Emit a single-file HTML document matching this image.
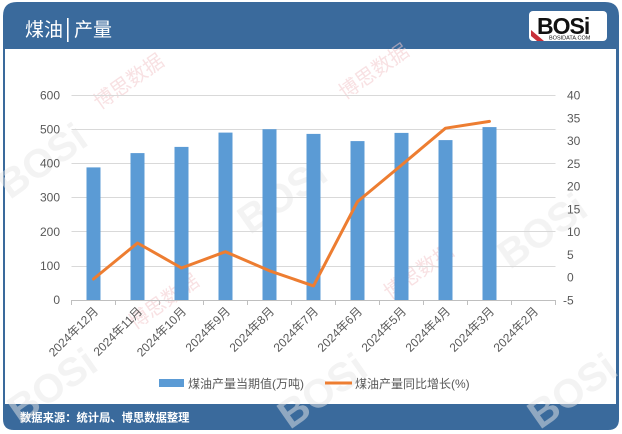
<!DOCTYPE html>
<html><head><meta charset="utf-8"><style>
html,body{margin:0;padding:0;background:#fff;}
svg{display:block;}
text{font-family:"Liberation Sans","Noto Sans CJK SC",sans-serif;}
</style></head><body>
<svg width="622" height="434" viewBox="0 0 622 434" xmlns="http://www.w3.org/2000/svg">
<!-- frame -->
<rect x="0" y="0" width="622" height="434" fill="#fff"/>
<path d="M3,49 L3,16 Q3,2 17,2 L605,2 Q619,2 619,16 L619,49 Z" fill="#3A6A9C"/>
<rect x="3" y="48" width="2" height="358" fill="#3A6A9C"/>
<rect x="616" y="48" width="3" height="358" fill="#3A6A9C"/>
<path d="M3,404 L619,404 L619,419 Q619,430 608,430 L14,430 Q3,430 3,419 Z" fill="#3A6A9C"/>
<text x="25" y="36" font-size="19" fill="#fff">煤油</text>
<rect x="67" y="18" width="1.6" height="24" fill="#fff"/>
<text x="74" y="36" font-size="19" fill="#fff">产量</text>
<text x="20" y="421.5" font-size="11.3" fill="#fff" font-weight="bold">数据来源：统计局、博思数据整理</text>
<!-- logo -->
<rect x="529" y="11" width="78" height="30" rx="4" fill="#fff"/>
<polygon points="531,30 544,41 537,41 531,36" fill="#C8303A"/>
<text x="537" y="34" font-size="23" font-weight="bold" fill="#111" letter-spacing="-1" font-family="Liberation Sans">BOSi</text>
<text x="549" y="39.5" font-size="5.5" fill="#111" font-family="Liberation Sans">BOSIDATA.COM</text>
<!-- watermarks -->
<g fill="#e6e6e6" font-weight="bold" font-size="40" opacity="0.5">
<text transform="translate(10,200) rotate(-35)">BOSi</text>
<text transform="translate(250,235) rotate(-35)">BOSi</text>
<text transform="translate(510,270) rotate(-35)">BOSi</text>
<text transform="translate(20,425) rotate(-35)">BOSi</text>
<text transform="translate(290,430) rotate(-35)">BOSi</text>
<text transform="translate(540,430) rotate(-35)">BOSi</text>
</g>
<g fill="#f3c9cc" font-size="20" opacity="0.55">
<text transform="translate(100,110) rotate(-35)">博思数据</text>
<text transform="translate(345,100) rotate(-35)">博思数据</text>
<text transform="translate(135,330) rotate(-35)">博思数据</text>
<text transform="translate(390,300) rotate(-35)">博思数据</text>
</g>
<!-- gridlines -->
<g stroke="#D9D9D9" stroke-width="1">
<line x1="71.5" x2="555.5" y1="95.5" y2="95.5"/>
<line x1="71.5" x2="555.5" y1="129.5" y2="129.5"/>
<line x1="71.5" x2="555.5" y1="163.5" y2="163.5"/>
<line x1="71.5" x2="555.5" y1="197.5" y2="197.5"/>
<line x1="71.5" x2="555.5" y1="231.5" y2="231.5"/>
<line x1="71.5" x2="555.5" y1="266.5" y2="266.5"/>
</g>
<!-- bars -->
<g fill="#5B9BD5">
<rect x="86.5" y="167.4" width="14" height="132.6"/>
<rect x="130.5" y="153.1" width="14" height="146.9"/>
<rect x="174.5" y="146.9" width="14" height="153.1"/>
<rect x="218.5" y="132.6" width="14" height="167.4"/>
<rect x="262.5" y="129.2" width="14" height="170.8"/>
<rect x="306.5" y="133.9" width="14" height="166.1"/>
<rect x="350.5" y="141.1" width="14" height="158.9"/>
<rect x="394.5" y="132.9" width="14" height="167.1"/>
<rect x="438.5" y="140.1" width="14" height="159.9"/>
<rect x="482.5" y="127.1" width="14" height="172.9"/>
</g>
<!-- x axis -->
<g stroke="#BFBFBF" stroke-width="1">
<line x1="71.5" x2="555.5" y1="300.5" y2="300.5"/>
<line x1="71.5" x2="71.5" y1="300" y2="305"/>
<line x1="115.5" x2="115.5" y1="300" y2="305"/>
<line x1="159.5" x2="159.5" y1="300" y2="305"/>
<line x1="203.5" x2="203.5" y1="300" y2="305"/>
<line x1="247.5" x2="247.5" y1="300" y2="305"/>
<line x1="291.5" x2="291.5" y1="300" y2="305"/>
<line x1="335.5" x2="335.5" y1="300" y2="305"/>
<line x1="379.5" x2="379.5" y1="300" y2="305"/>
<line x1="423.5" x2="423.5" y1="300" y2="305"/>
<line x1="467.5" x2="467.5" y1="300" y2="305"/>
<line x1="511.5" x2="511.5" y1="300" y2="305"/>
<line x1="555.5" x2="555.5" y1="300" y2="305"/>
</g>
<!-- line -->
<polyline fill="none" stroke="#ED7D31" stroke-width="3" stroke-linejoin="round" stroke-linecap="round"
points="93.5,279 137.5,243 181.5,268 225.5,251.7 269.5,270.8 313.5,285.9 357.5,201.6 401.5,165.1 445.5,128.2 489.5,121.4"/>
<!-- left axis labels -->
<g font-size="12" fill="#595959" text-anchor="end">
<text x="60" y="99.5">600</text>
<text x="60" y="133.5">500</text>
<text x="60" y="167.5">400</text>
<text x="60" y="201.5">300</text>
<text x="60" y="236">200</text>
<text x="60" y="270">100</text>
<text x="60" y="304">0</text>
</g>
<!-- right axis labels -->
<g font-size="12" fill="#595959">
<text x="567" y="99.5">40</text>
<text x="567" y="122.3">35</text>
<text x="567" y="145">30</text>
<text x="567" y="167.8">25</text>
<text x="567" y="190.6">20</text>
<text x="567" y="213.4">15</text>
<text x="567" y="236.1">10</text>
<text x="567" y="258.9">5</text>
<text x="567" y="281.7">0</text>
<text x="563" y="304.5">-5</text>
</g>
<!-- x labels -->
<g font-size="12" fill="#595959" text-anchor="end">
<text transform="translate(99,312) rotate(-45)">2024年12月</text>
<text transform="translate(143,312) rotate(-45)">2024年11月</text>
<text transform="translate(187,312) rotate(-45)">2024年10月</text>
<text transform="translate(231,312) rotate(-45)">2024年9月</text>
<text transform="translate(275,312) rotate(-45)">2024年8月</text>
<text transform="translate(319,312) rotate(-45)">2024年7月</text>
<text transform="translate(363,312) rotate(-45)">2024年6月</text>
<text transform="translate(407,312) rotate(-45)">2024年5月</text>
<text transform="translate(451,312) rotate(-45)">2024年4月</text>
<text transform="translate(495,312) rotate(-45)">2024年3月</text>
<text transform="translate(539,312) rotate(-45)">2024年2月</text>
</g>
<!-- legend -->
<rect x="159" y="379" width="25" height="8" fill="#5B9BD5"/>
<text x="188" y="388" font-size="12" fill="#595959">煤油产量当期值(万吨)</text>
<line x1="325" x2="352" y1="383" y2="383" stroke="#ED7D31" stroke-width="3"/>
<text x="355" y="388" font-size="12" fill="#595959">煤油产量同比增长(%)</text>
</svg>
</body></html>
